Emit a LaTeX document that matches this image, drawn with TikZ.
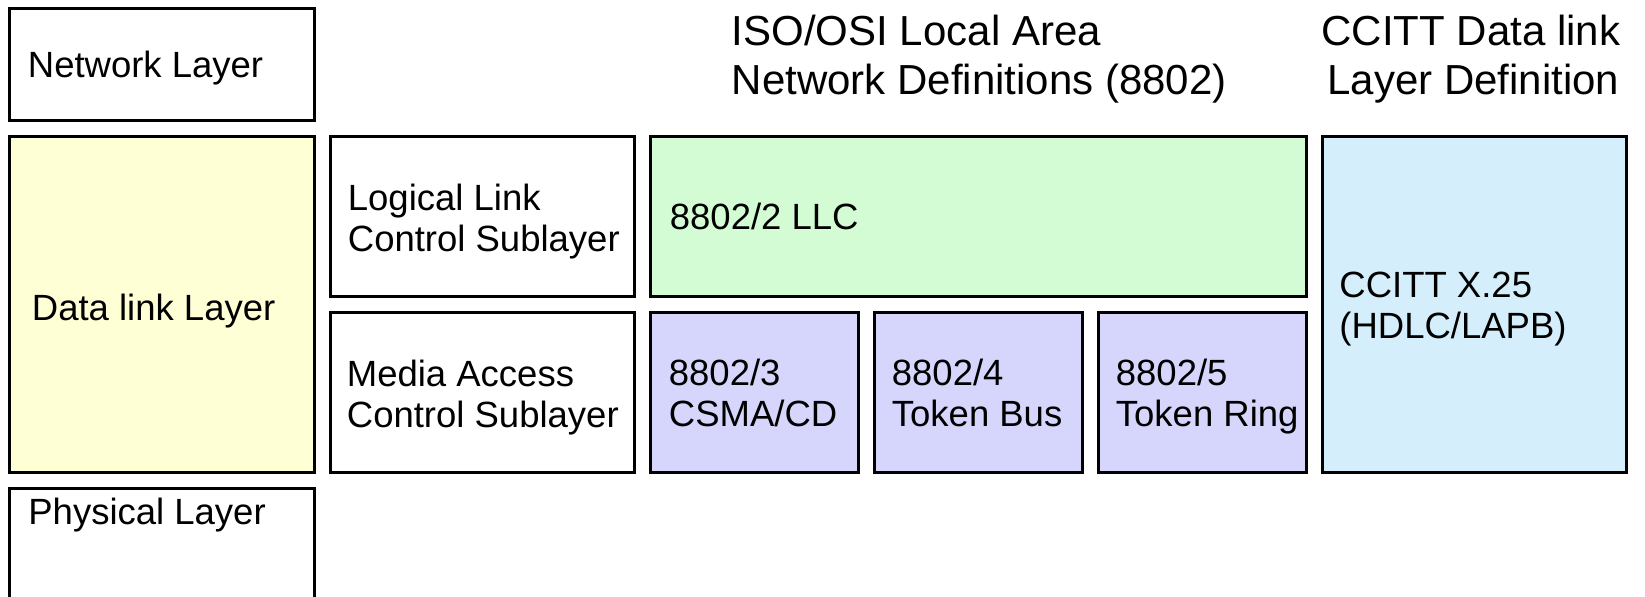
\documentclass[tikz,border=0pt]{standalone}
\usepackage{fontspec}
\setmainfont{Liberation Sans}
\definecolor{dllyellow}{HTML}{FFFFD6}
\definecolor{llcgreen}{HTML}{D4FCD4}
\definecolor{macblue}{HTML}{D6D6FC}
\definecolor{hdlcblue}{HTML}{D4EEFC}
\tikzset{
  layerbox/.style={draw=black, line width=1.5pt, inner sep=0pt, fill=white},
  boxtext/.style={anchor=north west, inner sep=0pt, align=left,
    font=\fontsize{18.25}{20.5}\selectfont},
  headtext/.style={anchor=north west, inner sep=0pt, align=left,
    font=\fontsize{21}{24.5}\selectfont},
}
\begin{document}
\begin{tikzpicture}[x=0.5pt, y=-0.5pt]
\useasboundingbox (0,0) rectangle (1645,597);
\clip (0,0) rectangle (1645,597);

% OSI layers on the left
\node[layerbox, minimum width=152.25pt, minimum height=55.75pt] (net) at (161.75,64.75) {};
\node[layerbox, fill=dllyellow, minimum width=152.25pt, minimum height=168pt] (dll) at (161.75,305) {};
\node[layerbox, minimum width=152.25pt, minimum height=55.75pt] (phy) at (161.75,544.75) {};

% Sublayers
\node[layerbox, minimum width=152.25pt, minimum height=80pt] (llc) at (482.25,217) {};
\node[layerbox, minimum width=152.25pt, minimum height=80pt] (mac) at (482.25,393) {};

% IEEE 802 / ISO 8802 standards
\node[layerbox, fill=llcgreen, minimum width=328pt, minimum height=80pt] (s2) at (978,217) {};
\node[layerbox, fill=macblue, minimum width=104pt, minimum height=80pt] (s3) at (754,393) {};
\node[layerbox, fill=macblue, minimum width=104pt, minimum height=80pt] (s4) at (978,393) {};
\node[layerbox, fill=macblue, minimum width=104pt, minimum height=80pt] (s5) at (1202,393) {};

% CCITT X.25
\node[layerbox, fill=hdlcblue, minimum width=152pt, minimum height=168pt] (x25) at (1474,305) {};

% Box labels
\node[boxtext] (net-t) at (27.5,51) {Network Layer};
\node[boxtext] (dll-t) at (31.5,294) {Data link Layer};
\node[boxtext] (phy-t) at (28,498) {Physical Layer};
\node[boxtext] (llc-t) at (347.5,184) {Logical Link\\Control Sublayer};
\node[boxtext] (mac-t) at (346.5,360) {Media Access\\Control Sublayer};
\node[boxtext] (s2-t) at (669.5,203) {8802/2 LLC};
\node[boxtext] (s3-t) at (668.5,359) {8802/3\\CSMA/CD};
\node[boxtext] (s4-t) at (891.5,359) {8802/4\\Token Bus};
\node[boxtext] (s5-t) at (1115.5,359) {8802/5\\Token Ring};
\node[boxtext] (x25-t) at (1339,272) {CCITT X.25\\(HDLC/LAPB)};

% Column headings
\node[headtext] (iso-h) at (731.5,15) {ISO/OSI Local Area\\Network Definitions (8802)};
\node[headtext] (ccitt-h) at (1321,15) {CCITT Data link\\\hspace*{3pt}Layer Definition};
\end{tikzpicture}
\end{document}
